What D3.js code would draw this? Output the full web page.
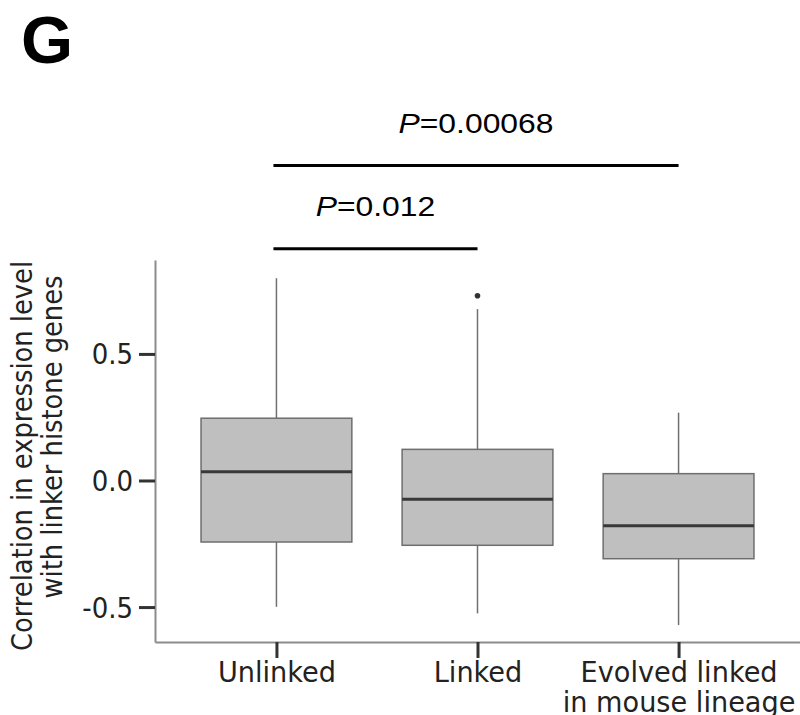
<!DOCTYPE html>
<html>
<head>
<meta charset="utf-8">
<script src="https://cdn.jsdelivr.net/npm/d3@7"></script>
<style>
  body { margin: 0; background: #fff; }
</style>
</head>
<body>
<div id="chart"></div>
<script>

// Box plot summaries (correlation values).
const categories = ["Unlinked", "Linked", "Evolved linked\nin mouse lineage"];
const whiskerLow = [-0.499, -0.525, -0.571];
const q1 = [-0.243, -0.256, -0.309];
const medians = [0.035, -0.074, -0.179];
const q3 = [0.246, 0.123, 0.027];
const whiskerHigh = [0.799, 0.677, 0.268];
const outliers = [[], [0.730], []];

const yTicks = [-0.5, 0.0, 0.5];

// Significance brackets: pair of groups, P value, height (in data units).
const compFrom = [0, 0];
const compTo = [2, 1];
const compP = ["0.00068", "0.012"];
const compLevel = [1.244, 0.915];

const width = 800, height = 715;
const DEJAVU = "'DejaVu Sans', sans-serif";
const ARIAL = "'Liberation Sans', Arial, sans-serif";

var svg = d3.select("#chart")
  .append("svg")
  .attr("width", width)
  .attr("height", height);

// Scales
var x = d3.scalePoint()
  .domain(d3.range(categories.length))
  .range([155, 800])
  .padding(0.604);

var y = d3.scaleLinear()
  .domain([-0.638, 0.871])
  .range([642, 260]);

var boxW = x.step() * 0.75;

// Y axis
var yAxis = svg.append("g")
  .attr("transform", "translate(155,0)")
  .call(d3.axisLeft(y)
    .tickValues(yTicks)
    .tickSize(16)
    .tickSizeOuter(0)
    .tickFormat(function(d) { return d3.format(".1f")(d).replace("\u2212", "-"); }));

yAxis.select(".domain").attr("stroke", "#8c8c8c").attr("stroke-width", 2);
yAxis.selectAll(".tick line").attr("stroke", "#333").attr("stroke-width", 3);
yAxis.selectAll(".tick text")
  .attr("fill", "#222")
  .style("font-family", DEJAVU)
  .style("font-size", "28px")
  .attr("x", -22 / 0.93)
  .attr("dy", "0.36em")
  .attr("transform", "scale(0.93,1)");

// X axis
var xAxis = svg.append("g")
  .attr("transform", "translate(0,642)")
  .call(d3.axisBottom(x)
    .tickSize(16)
    .tickSizeOuter(0)
    .tickFormat(""));

xAxis.select(".domain").attr("stroke", "#8c8c8c").attr("stroke-width", 2);
xAxis.selectAll(".tick line").attr("stroke", "#333").attr("stroke-width", 3);

xAxis.selectAll(".tick").each(function(d) {
  var lines = categories[d].split("\n");
  var t = d3.select(this).append("text")
    .attr("fill", "#222")
    .attr("text-anchor", "middle")
    .attr("transform", "scale(0.97,1)")
    .style("font-family", DEJAVU)
    .style("font-size", "28px");
  lines.forEach(function(s, i) {
    t.append("tspan").attr("x", 0).attr("y", 40 + i * 30).text(s);
  });
});

// Boxes
var boxes = svg.selectAll(".box")
  .data(categories.map(function(c, i) { return i; }))
  .enter()
  .append("g")
  .attr("class", "box")
  .attr("transform", function(i) { return "translate(" + x(i) + ",0)"; });

// whiskers
boxes.append("line")
  .attr("x1", 0).attr("x2", 0)
  .attr("y1", function(i) { return y(whiskerHigh[i]); })
  .attr("y2", function(i) { return y(q3[i]); })
  .attr("stroke", "#707070").attr("stroke-width", 1.5);

boxes.append("line")
  .attr("x1", 0).attr("x2", 0)
  .attr("y1", function(i) { return y(q1[i]); })
  .attr("y2", function(i) { return y(whiskerLow[i]); })
  .attr("stroke", "#707070").attr("stroke-width", 1.5);

boxes.append("rect")
  .attr("x", -boxW / 2)
  .attr("width", boxW)
  .attr("y", function(i) { return y(q3[i]); })
  .attr("height", function(i) { return y(q1[i]) - y(q3[i]); })
  .attr("fill", "#bfbfbf")
  .attr("stroke", "#6e6e6e")
  .attr("stroke-width", 1.5);

boxes.append("line")
  .attr("x1", -boxW / 2).attr("x2", boxW / 2)
  .attr("y1", function(i) { return y(medians[i]); })
  .attr("y2", function(i) { return y(medians[i]); })
  .attr("stroke", "#383838").attr("stroke-width", 3);

boxes.selectAll(".outlier")
  .data(function(i) { return outliers[i]; })
  .enter()
  .append("circle")
  .attr("class", "outlier")
  .attr("cx", 0)
  .attr("cy", function(v) { return y(v); })
  .attr("r", 2.8)
  .attr("fill", "#333");

// Significance brackets
compP.forEach(function(p, k) {
  var x1 = x(compFrom[k]) - 3, x2 = x(compTo[k]);
  var ly = y(compLevel[k]);
  svg.append("line")
    .attr("x1", x1).attr("x2", x2)
    .attr("y1", ly).attr("y2", ly)
    .attr("stroke", "#000").attr("stroke-width", 3);

  var t = svg.append("text")
    .attr("transform", "translate(" + ((x1 + x2) / 2) + "," + (ly - 33) + ") scale(1.18,1)")
    .attr("text-anchor", "middle")
    .style("font-family", ARIAL)
    .style("font-size", "27px")
    .attr("fill", "#000");
  t.append("tspan").style("font-style", "italic").text("P");
  t.append("tspan").text("=" + p);
});

// Y axis label (two lines)
svg.append("text")
  .attr("transform", "translate(32,456) rotate(-90) scale(0.92,1)")
  .attr("text-anchor", "middle")
  .style("font-family", DEJAVU)
  .style("font-size", "28px")
  .attr("fill", "#222")
  .text("Correlation in expression level");

svg.append("text")
  .attr("transform", "translate(62,437) rotate(-90) scale(0.92,1)")
  .attr("text-anchor", "middle")
  .style("font-family", DEJAVU)
  .style("font-size", "28px")
  .attr("fill", "#222")
  .text("with linker histone genes");

// Panel letter
svg.append("text")
  .attr("x", 21)
  .attr("y", 63)
  .style("font-family", ARIAL)
  .style("font-weight", "bold")
  .style("font-size", "67px")
  .attr("fill", "#000")
  .text("G");

</script>
</body>
</html>
